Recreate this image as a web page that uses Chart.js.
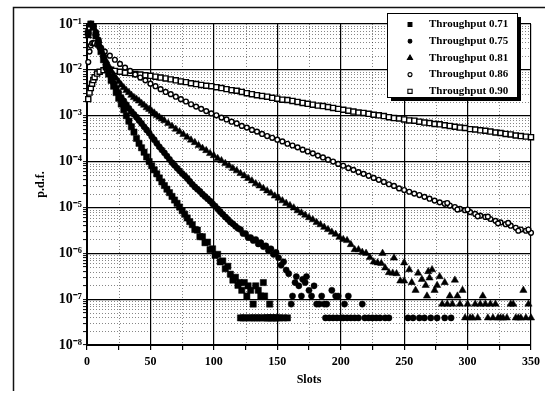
<!DOCTYPE html>
<html><head><meta charset="utf-8">
<script src="https://cdn.jsdelivr.net/npm/chart.js"></script>
<style>html,body{margin:0;padding:0;background:#fff}canvas{display:block}</style>
</head><body>
<canvas id="c" width="545" height="395"></canvas>
<script>
const seriesLabels = ['Throughput 0.71', 'Throughput 0.75', 'Throughput 0.81', 'Throughput 0.86', 'Throughput 0.90'];
const xTickLabels = ['0', '50', '100', '150', '200', '250', '300', '350'];
const decades = [1e-8, 1e-7, 1e-6, 1e-5, 1e-4, 1e-3, 1e-2, 1e-1];
const decadeLabels = ['10⁻⁸', '10⁻⁷', '10⁻⁶', '10⁻⁵', '10⁻⁴', '10⁻³', '10⁻²', '10⁻¹'];

const slots71 = [1,3,5,7,9,11,13,15,17,19,21,23,25,27,29,31,33,35,37,39,41,43,45,47,49,51,53,55,57,59,61,63,65,67,69,71,73,75,77,79,81,83,85,87,89,91,93,95,97,99,101,103,105,107,109,111,
  113,115,117,119,120,122,124,126,127,129,131,133,135,137,139,140,144,
  121,123,125,128,130,132,134,136,138,141,142,143,145,146,147,149,150,152,155,158];
const pdf71 = [6.5e-2,1.0e-1,8.5e-2,5.5e-2,3.7e-2,2.5e-2,1.66e-2,1.15e-2,8.1e-3,5.9e-3,4.4e-3,3.2e-3,2.4e-3,1.8e-3,1.35e-3,1.0e-3,7.6e-4,5.75e-4,4.4e-4,3.2e-4,2.5e-4,2.0e-4,1.6e-4,1.26e-4,1.0e-4,8.1e-5,6.6e-5,5.4e-5,4.4e-5,3.6e-5,3.0e-5,2.5e-5,2.1e-5,1.74e-5,1.45e-5,1.23e-5,1.02e-5,8.5e-6,7.1e-6,5.9e-6,4.9e-6,4.2e-6,3.3e-6,3.2e-6,2.3e-6,2.3e-6,1.7e-6,1.75e-6,1.2e-6,1.25e-6,9.0e-7,9.5e-7,6.5e-7,6.8e-7,4.6e-7,5.2e-7,
  3.5e-7,2.6e-7,3.0e-7,2.0e-7,2.3e-7,1.56e-7,2.3e-7,1.17e-7,1.95e-7,1.56e-7,7.8e-8,1.95e-7,1.56e-7,1.17e-7,2.3e-7,1.17e-7,7.8e-8,
  3.9e-8,3.9e-8,3.9e-8,3.9e-8,3.9e-8,3.9e-8,3.9e-8,3.9e-8,3.9e-8,3.9e-8,3.9e-8,3.9e-8,3.9e-8,3.9e-8,3.9e-8,3.9e-8,3.9e-8,3.9e-8,3.9e-8,3.9e-8];

const slots75 = [1,3,5,7,9,11,13,15,17,19,21,23,25,27,29,31,33,35,37,39,41,43,45,47,49,51,53,55,57,59,61,63,65,67,69,71,73,75,77,79,81,83,85,87,89,91,93,95,97,99,101,103,105,107,109,111,113,115,117,119,121,123,125,127,129,131,133,135,137,139,141,143,145,147,149,
  151,153,155,157,159,161,162,164,165,167,169,170,172,173,175,177,179,181,183,185,187,188,189,191,193,194,196,197,198,200,202,203,205,206,208,211,214,217,219,222,225,228,231,235,238,253,257,262,266,271,276,282,287];
const pdf75 = [6.3e-2,1.0e-1,8.9e-2,6.6e-2,4.5e-2,3.0e-2,1.95e-2,1.32e-2,9.5e-3,6.9e-3,5.1e-3,4.0e-3,3.2e-3,2.5e-3,2.1e-3,1.74e-3,1.45e-3,1.23e-3,1.07e-3,9.3e-4,7.9e-4,6.8e-4,5.75e-4,4.9e-4,4.2e-4,3.5e-4,3.0e-4,2.5e-4,2.1e-4,1.8e-4,1.55e-4,1.32e-4,1.12e-4,9.5e-5,8.3e-5,7.2e-5,6.3e-5,5.5e-5,4.9e-5,4.3e-5,3.7e-5,3.2e-5,2.8e-5,2.5e-5,2.24e-5,1.95e-5,1.74e-5,1.55e-5,1.38e-5,1.2e-5,1.07e-5,9.3e-6,8.1e-6,7.1e-6,6.2e-6,5.5e-6,4.8e-6,4.4e-6,3.9e-6,3.5e-6,3.3e-6,2.7e-6,2.7e-6,2.2e-6,2.2e-6,1.9e-6,2.0e-6,1.6e-6,1.7e-6,1.4e-6,1.45e-6,1.15e-6,1.25e-6,9.5e-7,1.05e-6,
  8.0e-7,5.5e-7,6.5e-7,4.3e-7,3.6e-7,7.8e-8,1.17e-7,2.3e-7,3.1e-7,1.95e-7,1.17e-7,2.7e-7,2.3e-7,3.1e-7,1.56e-7,1.17e-7,1.95e-7,7.8e-8,7.8e-8,1.17e-7,7.8e-8,3.9e-8,7.8e-8,3.9e-8,1.56e-7,3.9e-8,1.17e-7,3.9e-8,1.17e-7,3.9e-8,3.9e-8,7.8e-8,3.9e-8,1.17e-7,3.9e-8,3.9e-8,3.9e-8,7.8e-8,3.9e-8,3.9e-8,3.9e-8,3.9e-8,3.9e-8,3.9e-8,3.9e-8,3.9e-8,3.9e-8,3.9e-8,3.9e-8,3.9e-8,3.9e-8,3.9e-8,3.9e-8];

const slots81 = [1,3,5,7,9,11,13,15,17,19,21,23,25,27,29,31,33,35,37,39,41,43,45,47,49,51,53,55,57,59,61,
  64,67,70,73,76,79,82,85,88,91,94,97,100,103,106,109,112,115,118,121,124,127,130,133,136,139,142,145,148,151,154,157,160,163,166,169,172,175,178,181,184,187,190,193,196,199,202,205,208,211,214,217,220,223,226,229,232,235,238,241,244,247,250,
  233,242,250,254,256,259,261,264,267,268,269,270,272,274,276,278,280,282,284,286,288,290,292,294,296,298,300,302,304,306,308,310,312,314,316,318,320,322,324,326,328,331,334,336,338,340,342,344,346,348,350];
const pdf81 = [5.5e-2,9.5e-2,8.3e-2,6.3e-2,4.3e-2,3.0e-2,2.2e-2,1.58e-2,1.23e-2,9.5e-3,7.8e-3,6.5e-3,5.5e-3,4.7e-3,4.1e-3,3.55e-3,3.2e-3,2.8e-3,2.5e-3,2.3e-3,2.1e-3,1.86e-3,1.7e-3,1.5e-3,1.38e-3,1.26e-3,1.15e-3,1.02e-3,9.3e-4,8.5e-4,7.8e-4,
  6.8e-4,5.9e-4,5.1e-4,4.5e-4,3.9e-4,3.4e-4,2.95e-4,2.6e-4,2.24e-4,1.95e-4,1.74e-4,1.5e-4,1.35e-4,1.17e-4,1.05e-4,9.1e-5,8.1e-5,7.1e-5,6.3e-5,5.5e-5,4.9e-5,4.3e-5,3.8e-5,3.3e-5,2.95e-5,2.6e-5,2.3e-5,2.05e-5,1.78e-5,1.6e-5,1.4e-5,1.23e-5,1.1e-5,9.8e-6,8.5e-6,7.6e-6,6.8e-6,6.0e-6,5.4e-6,4.7e-6,4.2e-6,3.7e-6,3.3e-6,2.9e-6,2.6e-6,2.24e-6,2.0e-6,1.9e-6,1.55e-6,1.2e-6,1.2e-6,1.05e-6,1.0e-6,8.1e-7,6.5e-7,6.2e-7,6.0e-7,4.8e-7,3.8e-7,3.7e-7,3.6e-7,2.5e-7,2.5e-7,
  1.0e-6,7.9e-7,6.2e-7,4.4e-7,2.3e-7,1.56e-7,3.7e-7,2.7e-7,2.0e-7,1.17e-7,4.0e-7,2.9e-7,4.4e-7,1.56e-7,2.0e-7,3.1e-7,7.8e-8,2.3e-7,7.8e-8,1.17e-7,7.8e-8,2.6e-7,1.17e-7,7.8e-8,1.56e-7,3.9e-8,7.8e-8,3.9e-8,3.9e-8,7.8e-8,3.9e-8,7.8e-8,1.17e-7,7.8e-8,3.9e-8,7.8e-8,3.9e-8,7.8e-8,3.9e-8,3.9e-8,3.9e-8,3.9e-8,7.8e-8,7.8e-8,3.9e-8,3.9e-8,3.9e-8,1.56e-7,3.9e-8,7.8e-8,3.9e-8];

const slots86 = [1,2,3,4,5,6,8,10,14,18,22,26,30,34,38,42,46,50,54,58,62,66,70,74,78,82,86,90,94,98,102,106,110,114,118,122,126,130,134,138,142,146,150,154,158,162,166,170,174,178,182,186,190,194,198,202,206,210,214,218,222,226,230,234,238,242,246,250,254,258,262,266,270,274,278,282,286,290,294,298,302,306,310,314,318,322,326,330,334,338,342,346,350,
  284,292,300,308,316,324,332,340,348];
const pdf86 = [1.48e-2,2.5e-2,3.4e-2,3.8e-2,3.9e-2,3.8e-2,3.55e-2,3.16e-2,2.5e-2,2.04e-2,1.66e-2,1.35e-2,1.12e-2,9.5e-3,7.9e-3,6.8e-3,5.9e-3,5.0e-3,4.4e-3,3.8e-3,3.3e-3,2.95e-3,2.6e-3,2.3e-3,2.04e-3,1.78e-3,1.58e-3,1.41e-3,1.26e-3,1.12e-3,1.02e-3,9.1e-4,8.3e-4,7.4e-4,6.8e-4,6.0e-4,5.5e-4,4.9e-4,4.5e-4,4.0e-4,3.6e-4,3.3e-4,3.0e-4,2.75e-4,2.45e-4,2.24e-4,2.04e-4,1.82e-4,1.66e-4,1.51e-4,1.35e-4,1.23e-4,1.1e-4,1.0e-4,8.9e-5,8.1e-5,7.2e-5,6.6e-5,5.9e-5,5.4e-5,4.9e-5,4.4e-5,4.0e-5,3.6e-5,3.2e-5,2.95e-5,2.6e-5,2.4e-5,2.2e-5,2.0e-5,1.86e-5,1.7e-5,1.55e-5,1.41e-5,1.29e-5,1.2e-5,1.1e-5,1.02e-5,9.3e-6,8.7e-6,7.9e-6,7.2e-6,6.6e-6,6.2e-6,5.6e-6,5.1e-6,4.7e-6,4.3e-6,4.0e-6,3.6e-6,3.3e-6,3.1e-6,2.8e-6,
  1.25e-5,9.0e-6,9.0e-6,6.4e-6,6.3e-6,4.5e-6,4.6e-6,3.1e-6,3.3e-6];

const slots90 = [1,2,3,4,5,6,8,10,13,16,19,22,26,30,34,38,42,46,50,54,58,62,66,70,74,78,82,86,90,94,98,102,106,110,114,118,122,126,130,134,138,142,146,150,154,158,162,166,170,174,178,182,186,190,194,198,202,206,210,214,218,222,226,230,234,238,242,246,250,254,258,262,266,270,274,278,282,286,290,294,298,302,306,310,314,318,322,326,330,334,338,342,346,350];
const pdf90 = [2.3e-3,3.2e-3,4.0e-3,5.0e-3,6.0e-3,6.9e-3,8.3e-3,9.1e-3,9.8e-3,1.0e-2,1.0e-2,9.5e-3,9.1e-3,8.7e-3,8.5e-3,8.1e-3,7.9e-3,7.6e-3,7.4e-3,7.1e-3,6.8e-3,6.5e-3,6.2e-3,5.9e-3,5.6e-3,5.4e-3,5.1e-3,4.9e-3,4.7e-3,4.5e-3,4.4e-3,4.2e-3,4.0e-3,3.8e-3,3.6e-3,3.5e-3,3.3e-3,3.1e-3,2.95e-3,2.8e-3,2.7e-3,2.6e-3,2.45e-3,2.35e-3,2.24e-3,2.2e-3,2.1e-3,2.0e-3,1.9e-3,1.82e-3,1.74e-3,1.66e-3,1.62e-3,1.55e-3,1.48e-3,1.41e-3,1.35e-3,1.29e-3,1.23e-3,1.17e-3,1.15e-3,1.1e-3,1.05e-3,1.02e-3,9.8e-4,9.3e-4,8.9e-4,8.7e-4,8.3e-4,7.9e-4,7.8e-4,7.4e-4,7.1e-4,6.9e-4,6.6e-4,6.5e-4,6.2e-4,6.0e-4,5.75e-4,5.5e-4,5.4e-4,5.1e-4,5.0e-4,4.8e-4,4.7e-4,4.5e-4,4.3e-4,4.2e-4,4.0e-4,3.9e-4,3.7e-4,3.6e-4,3.5e-4,3.4e-4];

const FONT = 'Liberation Serif';
const pts = (xs, ys) => xs.map((x, i) => ({x: x, y: ys[i]}));
const decadeIndex = v => decades.findIndex(d => Math.abs(Math.log10(v) - Math.log10(d)) < 1e-6);

const markerStyles = [
  {style: 'rect', fill: '#000', r: 4.4, lr: 2.7, bw: 0.5},
  {style: 'circle', fill: '#000', r: 3.1, lr: 1.9, bw: 0.5},
  {style: 'triangle', fill: '#000', r: 4.2, lr: 2.9, bw: 0.5},
  {style: 'circle', fill: '#fff', r: 2.4, lr: 2.0, bw: 1.4},
  {style: 'rect', fill: '#fff', r: 3.6, lr: 3.0, bw: 1.4}
];
const seriesData = [pts(slots71, pdf71), pts(slots75, pdf75), pts(slots81, pdf81), pts(slots86, pdf86), pts(slots90, pdf90)];

function drawMarker(ctx, style, x, y, r, fill) {
  ctx.beginPath();
  if (style === 'rect') { const s = r * Math.SQRT1_2; ctx.rect(x - s, y - s, 2 * s, 2 * s); }
  else if (style === 'circle') { ctx.arc(x, y, r, 0, Math.PI * 2); }
  else { ctx.moveTo(x, y - r); ctx.lineTo(x + r * 0.866, y + r * 0.5); ctx.lineTo(x - r * 0.866, y + r * 0.5); ctx.closePath(); }
  ctx.fillStyle = fill; ctx.fill();
  ctx.lineWidth = 1.1; ctx.strokeStyle = '#000'; ctx.stroke();
}

const framePlugin = {
  id: 'frame',
  beforeDraw(chart) {
    const ctx = chart.ctx;
    ctx.save(); ctx.fillStyle = '#fff'; ctx.fillRect(0, 0, chart.width, chart.height); ctx.restore();
  },
  beforeDatasetsDraw(chart) {
    const {ctx, chartArea: a, scales: {x, y}} = chart;
    ctx.save();
    ctx.strokeStyle = 'rgba(0,0,0,0.6)';
    ctx.lineWidth = 0.8;
    ctx.setLineDash([1, 2]);
    for (let i = 0; i < decades.length - 1; i++) {
      for (let k = 2; k <= 9; k++) {
        const py = Math.round(y.getPixelForValue(k * decades[i])) + 0.5;
        ctx.beginPath(); ctx.moveTo(a.left, py); ctx.lineTo(a.right, py); ctx.stroke();
      }
    }
    for (let v = 25; v < 350; v += 50) {
      const px = Math.round(x.getPixelForValue(v)) + 0.5;
      ctx.beginPath(); ctx.moveTo(px, a.top); ctx.lineTo(px, a.bottom); ctx.stroke();
    }
    ctx.restore();
  },
  afterDraw(chart) {
    const ctx = chart.ctx;
    ctx.save();
    ctx.strokeStyle = '#111'; ctx.lineWidth = 1.5;
    ctx.beginPath();
    ctx.moveTo(13.5, 391); ctx.lineTo(13.5, 7.5); ctx.lineTo(545, 7.5);
    ctx.stroke();
    const lx = 387, ly = 13, lw = 130, lh = 84;
    ctx.fillStyle = '#000'; ctx.fillRect(lx + 4, ly + 4, lw, lh);
    ctx.fillStyle = '#fff'; ctx.fillRect(lx, ly, lw, lh);
    ctx.strokeStyle = '#000'; ctx.lineWidth = 1; ctx.strokeRect(lx + 0.5, ly + 0.5, lw, lh);
    ctx.font = 'bold 11px "' + FONT + '"';
    ctx.textBaseline = 'middle'; ctx.textAlign = 'left';
    chart.data.datasets.forEach((ds, i) => {
      const cy = ly + 11.5 + i * 16.7;
      const m = markerStyles[i];
      drawMarker(ctx, m.style, 410, cy, m.lr, m.fill);
      ctx.fillStyle = '#000';
      ctx.fillText(ds.label, 429, cy);
    });
    ctx.restore();
  }
};

new Chart(document.getElementById('c'), {
  type: 'scatter',
  data: {
    datasets: seriesData.map((d, i) => ({
      label: seriesLabels[i],
      data: d,
      pointStyle: markerStyles[i].style,
      pointRadius: markerStyles[i].r,
      pointHoverRadius: markerStyles[i].r,
      backgroundColor: markerStyles[i].fill,
      borderColor: '#000',
      borderWidth: markerStyles[i].bw,
      clip: false
    }))
  },
  options: {
    responsive: false,
    animation: false,
    events: [],
    layout: {padding: {left: 0, top: 24, right: 13, bottom: 0}},
    plugins: {legend: {display: false}, tooltip: {enabled: false}},
    scales: {
      x: {
        type: 'linear', min: 0, max: 350,
        afterFit: s => { s.height = 50; },
        ticks: {
          stepSize: 25, autoSkip: false, maxRotation: 0, padding: 5,
          color: '#000', font: {family: FONT, size: 12, weight: 'bold'},
          callback: v => { const i = xTickLabels.indexOf(String(v)); return i >= 0 ? xTickLabels[i] : ''; }
        },
        grid: {
          color: c => (c.tick && c.tick.value % 50 === 0) ? '#000' : 'rgba(0,0,0,0)',
          lineWidth: 1.2, tickColor: '#000', tickLength: 5, tickWidth: 1.2
        },
        border: {color: '#000', width: 2},
        title: {display: true, text: 'Slots', color: '#000', font: {family: FONT, size: 12, weight: 'bold'}, padding: {top: 0, bottom: 8}}
      },
      y: {
        type: 'logarithmic', min: 1e-8, max: 1e-1,
        afterFit: s => { s.width = 87; },
        afterBuildTicks: s => {
          const t = [];
          decades.forEach((d, i) => {
            t.push({value: d});
            if (i < decades.length - 1) for (let k = 2; k <= 9; k++) t.push({value: k * d});
          });
          s.ticks = t;
        },
        ticks: {
          autoSkip: false, padding: 1, color: '#000', font: {family: FONT, size: 14, weight: 'bold'},
          callback: v => { const i = decadeIndex(v); return i >= 0 ? decadeLabels[i] : ''; }
        },
        grid: {
          color: c => (c.tick && decadeIndex(c.tick.value) >= 0) ? '#000' : 'rgba(0,0,0,0)',
          lineWidth: 1.2, tickColor: '#000', tickLength: 4, tickWidth: 1
        },
        border: {color: '#000', width: 2},
        title: {display: true, text: 'p.d.f.', color: '#000', font: {family: FONT, size: 12, weight: 'bold'}, padding: {top: 34, bottom: 0}}
      }
    }
  },
  plugins: [framePlugin]
});
</script>
</body></html>
